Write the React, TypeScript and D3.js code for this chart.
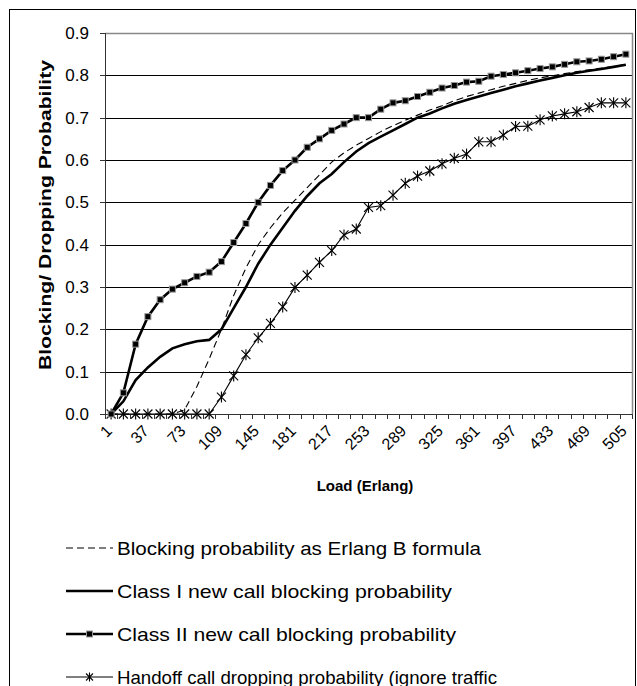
import React from "react";
import * as d3 from "d3";

// Offered load (Erlang) per simulation run
const loads = [
  1, 13, 25, 37, 49, 61, 73, 85, 97, 109, 121, 133, 145, 157, 169, 181, 193, 205,
  217, 229, 241, 253, 265, 277, 289, 301, 313, 325, 337, 349, 361, 373, 385, 397,
  409, 421, 433, 445, 457, 469, 481, 493, 505,
];

const erlangB = [
  0, 0, 0, 0, 0, 0, 0.01, 0.065, 0.13, 0.2, 0.28, 0.345, 0.4, 0.44, 0.475, 0.505,
  0.535, 0.565, 0.595, 0.617, 0.635, 0.651, 0.667, 0.681, 0.694, 0.706, 0.718,
  0.728, 0.74, 0.75, 0.758, 0.766, 0.774, 0.781, 0.788, 0.794, 0.799, 0.804,
  0.809, 0.813, 0.817, 0.821, 0.826,
];

const classOne = [
  0, 0.03, 0.08, 0.11, 0.135, 0.155, 0.165, 0.172, 0.175, 0.2, 0.25, 0.3, 0.355,
  0.4, 0.44, 0.48, 0.515, 0.545, 0.567, 0.595, 0.62, 0.64, 0.655, 0.67, 0.685,
  0.7, 0.71, 0.722, 0.733, 0.742, 0.75, 0.758, 0.766, 0.774, 0.781, 0.788, 0.794,
  0.8, 0.806, 0.811, 0.815, 0.82, 0.825,
];

const classTwo = [
  0, 0.05, 0.165, 0.23, 0.27, 0.295, 0.31, 0.325, 0.335, 0.36, 0.405, 0.45, 0.5,
  0.54, 0.575, 0.6, 0.63, 0.65, 0.67, 0.685, 0.7, 0.7, 0.72, 0.735, 0.74, 0.75,
  0.76, 0.77, 0.776, 0.784, 0.786, 0.798, 0.802, 0.806, 0.811, 0.816, 0.82,
  0.826, 0.832, 0.834, 0.838, 0.844, 0.85,
];

const handoff = [
  0, 0, 0, 0, 0, 0, 0, 0, 0, 0.04, 0.09, 0.14, 0.18, 0.214, 0.253, 0.299, 0.328,
  0.358, 0.386, 0.423, 0.437, 0.488, 0.492, 0.517, 0.545, 0.562, 0.574, 0.591,
  0.604, 0.614, 0.643, 0.643, 0.659, 0.679, 0.68, 0.695, 0.704, 0.709, 0.714,
  0.724, 0.735, 0.735, 0.735,
];

const yTicks = [0, 0.1, 0.2, 0.3, 0.4, 0.5, 0.6, 0.7, 0.8, 0.9];

const legendLabels = [
  "Blocking probability as Erlang B formula",
  "Class I new call blocking probability",
  "Class II new call blocking probability",
  "Handoff call dropping probability (ignore traffic",
];
const legendTextWidths = [364, 335, 339, 380];

const W = 637;
const H = 686;
const plot = { left: 105, right: 632, top: 33, bottom: 414 };
const FONT = "'Liberation Sans', Arial, sans-serif";

function Star({ x, y, r = 4.5 }: { x: number; y: number; r?: number }) {
  return (
    <g stroke="#000" strokeWidth={1.1}>
      <line x1={x - r} y1={y - r} x2={x + r} y2={y + r} />
      <line x1={x - r} y1={y + r} x2={x + r} y2={y - r} />
      <line x1={x} y1={y - r - 1} x2={x} y2={y + r + 1} />
    </g>
  );
}

function Square({ x, y, s = 6 }: { x: number; y: number; s?: number }) {
  return (
    <rect
      x={x - s / 2}
      y={y - s / 2}
      width={s}
      height={s}
      fill="#000"
      stroke="#999"
      strokeWidth={1}
    />
  );
}

export default function App() {
  const x = d3
    .scaleBand<number>()
    .domain(loads)
    .range([plot.left, plot.right])
    .paddingInner(0)
    .paddingOuter(0);
  const cx = (i: number) => (x(loads[i]) as number) + x.bandwidth() / 2;
  const y = d3.scaleLinear().domain([0, 0.9]).range([plot.bottom, plot.top]);

  const line = d3
    .line<number>()
    .x((_, i) => cx(i))
    .y((d) => y(d));

  const boundaries = loads.map((l) => x(l) as number).concat([plot.right]);

  const legendY = [548, 591, 634, 677];
  const lx0 = 66;
  const lx1 = 113;

  return (
    <svg
      width={W}
      height={H}
      style={{ position: "absolute", left: 0, top: 0, background: "#fff" }}
      fontFamily={FONT}
    >
      <rect x={0} y={0} width={W} height={H} fill="#fff" />
      {/* chart frame */}
      <rect x={9.5} y={9.5} width={626} height={720} fill="none" stroke="#000" strokeWidth={1} />

      {/* horizontal gridlines */}
      {yTicks.slice(1, -1).map((t) => (
        <line
          key={t}
          x1={plot.left}
          x2={plot.right}
          y1={Math.round(y(t)) + 0.5}
          y2={Math.round(y(t)) + 0.5}
          stroke="#000"
          strokeWidth={1}
        />
      ))}
      {/* plot border (top/right) */}
      <path
        d={`M${plot.left},${plot.top + 0.5}H${plot.right + 0.5}V${plot.bottom}`}
        fill="none"
        stroke="#888"
        strokeWidth={1.5}
      />

      {/* y axis */}
      <line x1={plot.left + 0.5} x2={plot.left + 0.5} y1={plot.top} y2={plot.bottom + 0.5} stroke="#333" />
      {yTicks.map((t) => (
        <g key={t}>
          <line
            x1={plot.left - 5}
            x2={plot.left}
            y1={Math.round(y(t)) + 0.5}
            y2={Math.round(y(t)) + 0.5}
            stroke="#333"
          />
          <text
            x={89}
            y={y(t)}
            dy="0.35em"
            textAnchor="end"
            fontSize={17}
            fill="#000"
          >
            {t.toFixed(1)}
          </text>
        </g>
      ))}

      {/* x axis */}
      <line x1={plot.left} x2={plot.right} y1={plot.bottom + 0.5} y2={plot.bottom + 0.5} stroke="#333" />
      {boundaries.map((b, i) => (
        <line
          key={i}
          x1={Math.round(b) + 0.5}
          x2={Math.round(b) + 0.5}
          y1={plot.bottom}
          y2={plot.bottom + 5}
          stroke="#333"
        />
      ))}
      {loads.map((l, i) =>
        i % 3 === 0 ? (
          <text
            key={l}
            transform={`translate(${cx(i) - 2},${plot.bottom + 14}) rotate(-45)`}
            textAnchor="end"
            dy="0.35em"
            fontSize={16}
            fill="#000"
          >
            {l}
          </text>
        ) : null
      )}

      {/* axis titles */}
      <text
        x={365}
        y={491}
        textAnchor="middle"
        fontSize={15}
        fontWeight="bold"
        fill="#000"
      >
        Load (Erlang)
      </text>
      <text
        transform={`translate(51,215) rotate(-90)`}
        textAnchor="middle"
        fontSize={17}
        fontWeight="bold"
        fill="#000"
        textLength={310}
        lengthAdjust="spacingAndGlyphs"
      >
        Blocking/ Dropping Probability
      </text>

      {/* series */}
      <path d={line(erlangB) || ""} fill="none" stroke="#000" strokeWidth={1.1} strokeDasharray="7,4" />
      <path d={line(classOne) || ""} fill="none" stroke="#000" strokeWidth={2.6} />
      <path d={line(handoff) || ""} fill="none" stroke="#000" strokeWidth={1.1} />
      {handoff.map((v, i) => (
        <Star key={i} x={cx(i)} y={y(v)} />
      ))}
      <path d={line(classTwo) || ""} fill="none" stroke="#000" strokeWidth={2.6} />
      {classTwo.map((v, i) => (
        <Square key={i} x={cx(i)} y={y(v)} />
      ))}

      {/* legend */}
      <g fontSize={19} fill="#000">
        <line x1={lx0} x2={lx1} y1={legendY[0]} y2={legendY[0]} stroke="#000" strokeWidth={1.1} strokeDasharray="7,4" />
        <line x1={lx0} x2={lx1} y1={legendY[1]} y2={legendY[1]} stroke="#000" strokeWidth={2.6} />
        <line x1={lx0} x2={lx1} y1={legendY[2]} y2={legendY[2]} stroke="#000" strokeWidth={2.6} />
        <Square x={(lx0 + lx1) / 2} y={legendY[2]} />
        <line x1={lx0} x2={lx1} y1={legendY[3]} y2={legendY[3]} stroke="#000" strokeWidth={1.1} />
        <Star x={(lx0 + lx1) / 2} y={legendY[3]} r={3.5} />
        {legendLabels.map((t, i) => (
          <text
            key={t}
            x={117}
            y={legendY[i]}
            dy="0.35em"
            textLength={legendTextWidths[i]}
            lengthAdjust="spacingAndGlyphs"
          >
            {t}
          </text>
        ))}
      </g>
    </svg>
  );
}
